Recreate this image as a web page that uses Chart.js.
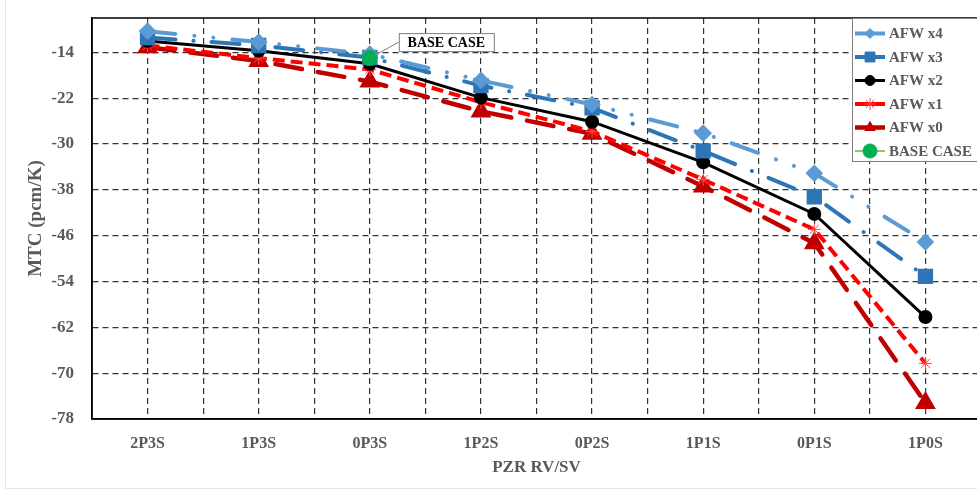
<!DOCTYPE html>
<html>
<head>
<meta charset="utf-8">
<script src="https://cdn.jsdelivr.net/npm/chart.js"></script>
<style>
  html, body { margin: 0; padding: 0; background: #fff; overflow: hidden; }
  #wrap { width: 984px; height: 492px; overflow: hidden; }
</style>
</head>
<body>
<div id="wrap"><canvas id="mtc" width="984" height="492"></canvas></div>
<script>
const categories = ["2P3S", "1P3S", "0P3S", "1P2S", "0P2S", "1P1S", "0P1S", "1P0S"];
const afwX4 = [-10.3, -12.2, -14.3, -18.9, -23.1, -28.1, -35.1, -47.1];
const afwX3 = [-11.4, -12.8, -14.9, -19.8, -23.7, -31.2, -39.2, -53.1];
const afwX2 = [-12.0, -13.7, -16.0, -21.9, -26.1, -33.2, -42.2, -60.2];
const afwX1 = [-12.8, -15.0, -17.0, -22.7, -27.8, -36.2, -44.9, -68.3];
const afwX0 = [-13.1, -15.5, -19.1, -24.3, -28.2, -37.4, -47.3, -75.2];
const baseCaseIndex = 2;
const baseCaseValue = -15.0;
const yTicks = [-78, -70, -62, -54, -46, -38, -30, -22, -14];

const FONT = "'Liberation Serif', 'Times New Roman', serif";
const GREY = "#595959";

// grid lines on each category and halfway between them
const xTicks = categories.flatMap((c, i) => [i - 0.5, i]).concat([categories.length - 0.5]);

function pts(arr) {
  return arr.map((v, i) => ({ x: i, y: v }));
}

const decor = {
  id: "decor",
  beforeDraw(chart) {
    const ctx = chart.ctx;
    ctx.save();
    ctx.fillStyle = "#fff";
    ctx.fillRect(0, 0, chart.width, chart.height);
    ctx.strokeStyle = "#e4e4e4";
    ctx.lineWidth = 1;
    ctx.beginPath();
    ctx.moveTo(5.5, 0);
    ctx.lineTo(5.5, 488.5);
    ctx.lineTo(chart.width, 488.5);
    ctx.stroke();
    ctx.restore();
  },
  afterDatasetsDraw(chart) {
    // BASE CASE callout
    const p = chart.getDatasetMeta(5).data[0];
    const ctx = chart.ctx;
    const bx = p.x + 29, by = p.y - 25, bw = 95, bh = 18;
    ctx.save();
    ctx.strokeStyle = "#7f7f7f";
    ctx.lineWidth = 1;
    ctx.beginPath();
    ctx.moveTo(p.x, p.y);
    ctx.lineTo(bx, by + bh / 2);
    ctx.stroke();
    ctx.fillStyle = "#fff";
    ctx.fillRect(bx, by, bw, bh);
    ctx.strokeRect(bx + 0.5, by + 0.5, bw, bh);
    ctx.fillStyle = "#000";
    ctx.font = "bold 14px " + FONT;
    ctx.textAlign = "center";
    ctx.textBaseline = "middle";
    ctx.fillText("BASE CASE", bx + bw / 2, by + bh / 2 + 1);
    ctx.restore();
  },
  afterDraw(chart) {
    const ctx = chart.ctx;
    const a = chart.chartArea;
    ctx.save();
    ctx.strokeStyle = "#000";
    ctx.lineWidth = 1.5;
    ctx.strokeRect(a.left, a.top, a.right - a.left, a.bottom - a.top);

    // legend box
    const lx = 852, ly = a.top, lw = 140, lh = 143;
    ctx.fillStyle = "#fff";
    ctx.fillRect(lx, ly, lw, lh);
    ctx.strokeStyle = "#7f7f7f";
    ctx.lineWidth = 1;
    ctx.strokeRect(lx + 0.5, ly + 0.5, lw, lh);

    chart.data.datasets.forEach((ds, i) => {
      const y = 33.5 + i * 23.5;
      ctx.save();
      ctx.strokeStyle = ds.legendLine || ds.borderColor;
      ctx.lineWidth = ds.legendWidth || ds.borderWidth;
      ctx.setLineDash([]);
      ctx.beginPath();
      ctx.moveTo(855, y);
      ctx.lineTo(885, y);
      ctx.stroke();
      ctx.fillStyle = ds.pointBackgroundColor || ds.borderColor;
      ctx.strokeStyle = ds.pointBorderColor || ds.borderColor;
      ctx.lineWidth = 1;
      Chart.helpers.drawPoint(ctx, {
        pointStyle: ds.pointStyle,
        radius: ds.legendRadius || ds.pointRadius,
        rotation: 0,
        borderWidth: 1
      }, 870, y);
      ctx.restore();
      ctx.fillStyle = GREY;
      ctx.font = "bold 15px " + FONT;
      ctx.textAlign = "left";
      ctx.textBaseline = "middle";
      ctx.fillText(ds.label, 889, y + 1);
    });
    ctx.restore();
  }
};

new Chart(document.getElementById("mtc"), {
  type: "line",
  data: {
    datasets: [
      {
        label: "AFW x4",
        data: pts(afwX4),
        borderColor: "#5B9BD5",
        pointBackgroundColor: "#5B9BD5",
        borderWidth: 4,
        borderDash: [28, 19, 0.1, 19, 0.1, 19],
        borderCapStyle: "round",
        pointStyle: "rectRot",
        pointRadius: 6,
        legendRadius: 5
      },
      {
        label: "AFW x3",
        data: pts(afwX3),
        borderColor: "#2E75B6",
        pointBackgroundColor: "#2E75B6",
        borderWidth: 4,
        borderDash: [28, 18, 0.1, 18],
        borderCapStyle: "round",
        pointStyle: "rect",
        pointRadius: 8,
        legendRadius: 7
      },
      {
        label: "AFW x2",
        data: pts(afwX2),
        borderColor: "#000000",
        pointBackgroundColor: "#000000",
        borderWidth: 3,
        pointStyle: "circle",
        pointRadius: 5.5,
        legendRadius: 5
      },
      {
        label: "AFW x1",
        data: pts(afwX1),
        borderColor: "#FF0000",
        pointBorderColor: "#FF4A4A",
        pointBackgroundColor: "#FF4A4A",
        borderWidth: 4,
        borderDash: [12, 6],
        pointStyle: "star",
        pointRadius: 6.5,
        pointBorderWidth: 1,
        legendRadius: 6
      },
      {
        label: "AFW x0",
        data: pts(afwX0),
        borderColor: "#C00000",
        pointBackgroundColor: "#C00000",
        borderWidth: 4.5,
        borderDash: [27, 16],
        borderCapStyle: "round",
        pointStyle: "triangle",
        pointRadius: 7.5,
        legendRadius: 6
      },
      {
        label: "BASE CASE",
        data: [{ x: baseCaseIndex, y: baseCaseValue }],
        borderColor: "#00B050",
        pointBackgroundColor: "#00B050",
        showLine: false,
        pointStyle: "circle",
        pointRadius: 7.5,
        legendRadius: 7,
        legendLine: "#70AD47",
        legendWidth: 1.5,
        order: -1
      }
    ]
  },
  options: {
    responsive: false,
    devicePixelRatio: 1,
    animation: false,
    layout: { autoPadding: false, padding: { top: 18, right: 3, left: 0, bottom: 0 } },
    plugins: {
      legend: { display: false },
      tooltip: { enabled: false }
    },
    elements: { line: { tension: 0 } },
    scales: {
      x: {
        type: "linear",
        min: -0.5,
        max: categories.length - 0.5,
        afterBuildTicks: (s) => { s.ticks = xTicks.map(v => ({ value: v })); },
        afterFit: (s) => {
          s.height = 73;
          s.paddingLeft = 0;
          s.paddingRight = 0;
        },
        grid: { color: "#333", lineWidth: 1.2, drawTicks: false },
        border: { color: "#000", width: 1.5, dash: [6, 4] },
        ticks: {
          autoSkip: false,
          maxRotation: 0,
          padding: 15,
          color: GREY,
          font: { family: FONT, size: 16, weight: "bold" },
          callback: (v) => Number.isInteger(v) ? categories[v] : ""
        },
        title: {
          display: true,
          text: "PZR RV/SV",
          color: GREY,
          font: { family: FONT, size: 17, weight: "bold" },
          padding: { top: 0, bottom: 14 }
        }
      },
      y: {
        min: -78,
        max: -8,
        afterBuildTicks: (s) => { s.ticks = yTicks.map(v => ({ value: v })); },
        afterFit: (s) => {
          s.width = 92;
          s.paddingTop = 0;
          s.paddingBottom = 0;
        },
        grid: { color: "#333", lineWidth: 1.2, drawTicks: false },
        border: { color: "#000", width: 1.5, dash: [6, 4] },
        ticks: {
          padding: 18,
          color: GREY,
          font: { family: FONT, size: 17, weight: "bold" }
        },
        title: {
          display: true,
          text: "MTC (pcm/K)",
          color: GREY,
          font: { family: FONT, size: 19, weight: "bold" },
          padding: { top: 25, bottom: 0 }
        }
      }
    }
  },
  plugins: [decor]
});
</script>
</body>
</html>
